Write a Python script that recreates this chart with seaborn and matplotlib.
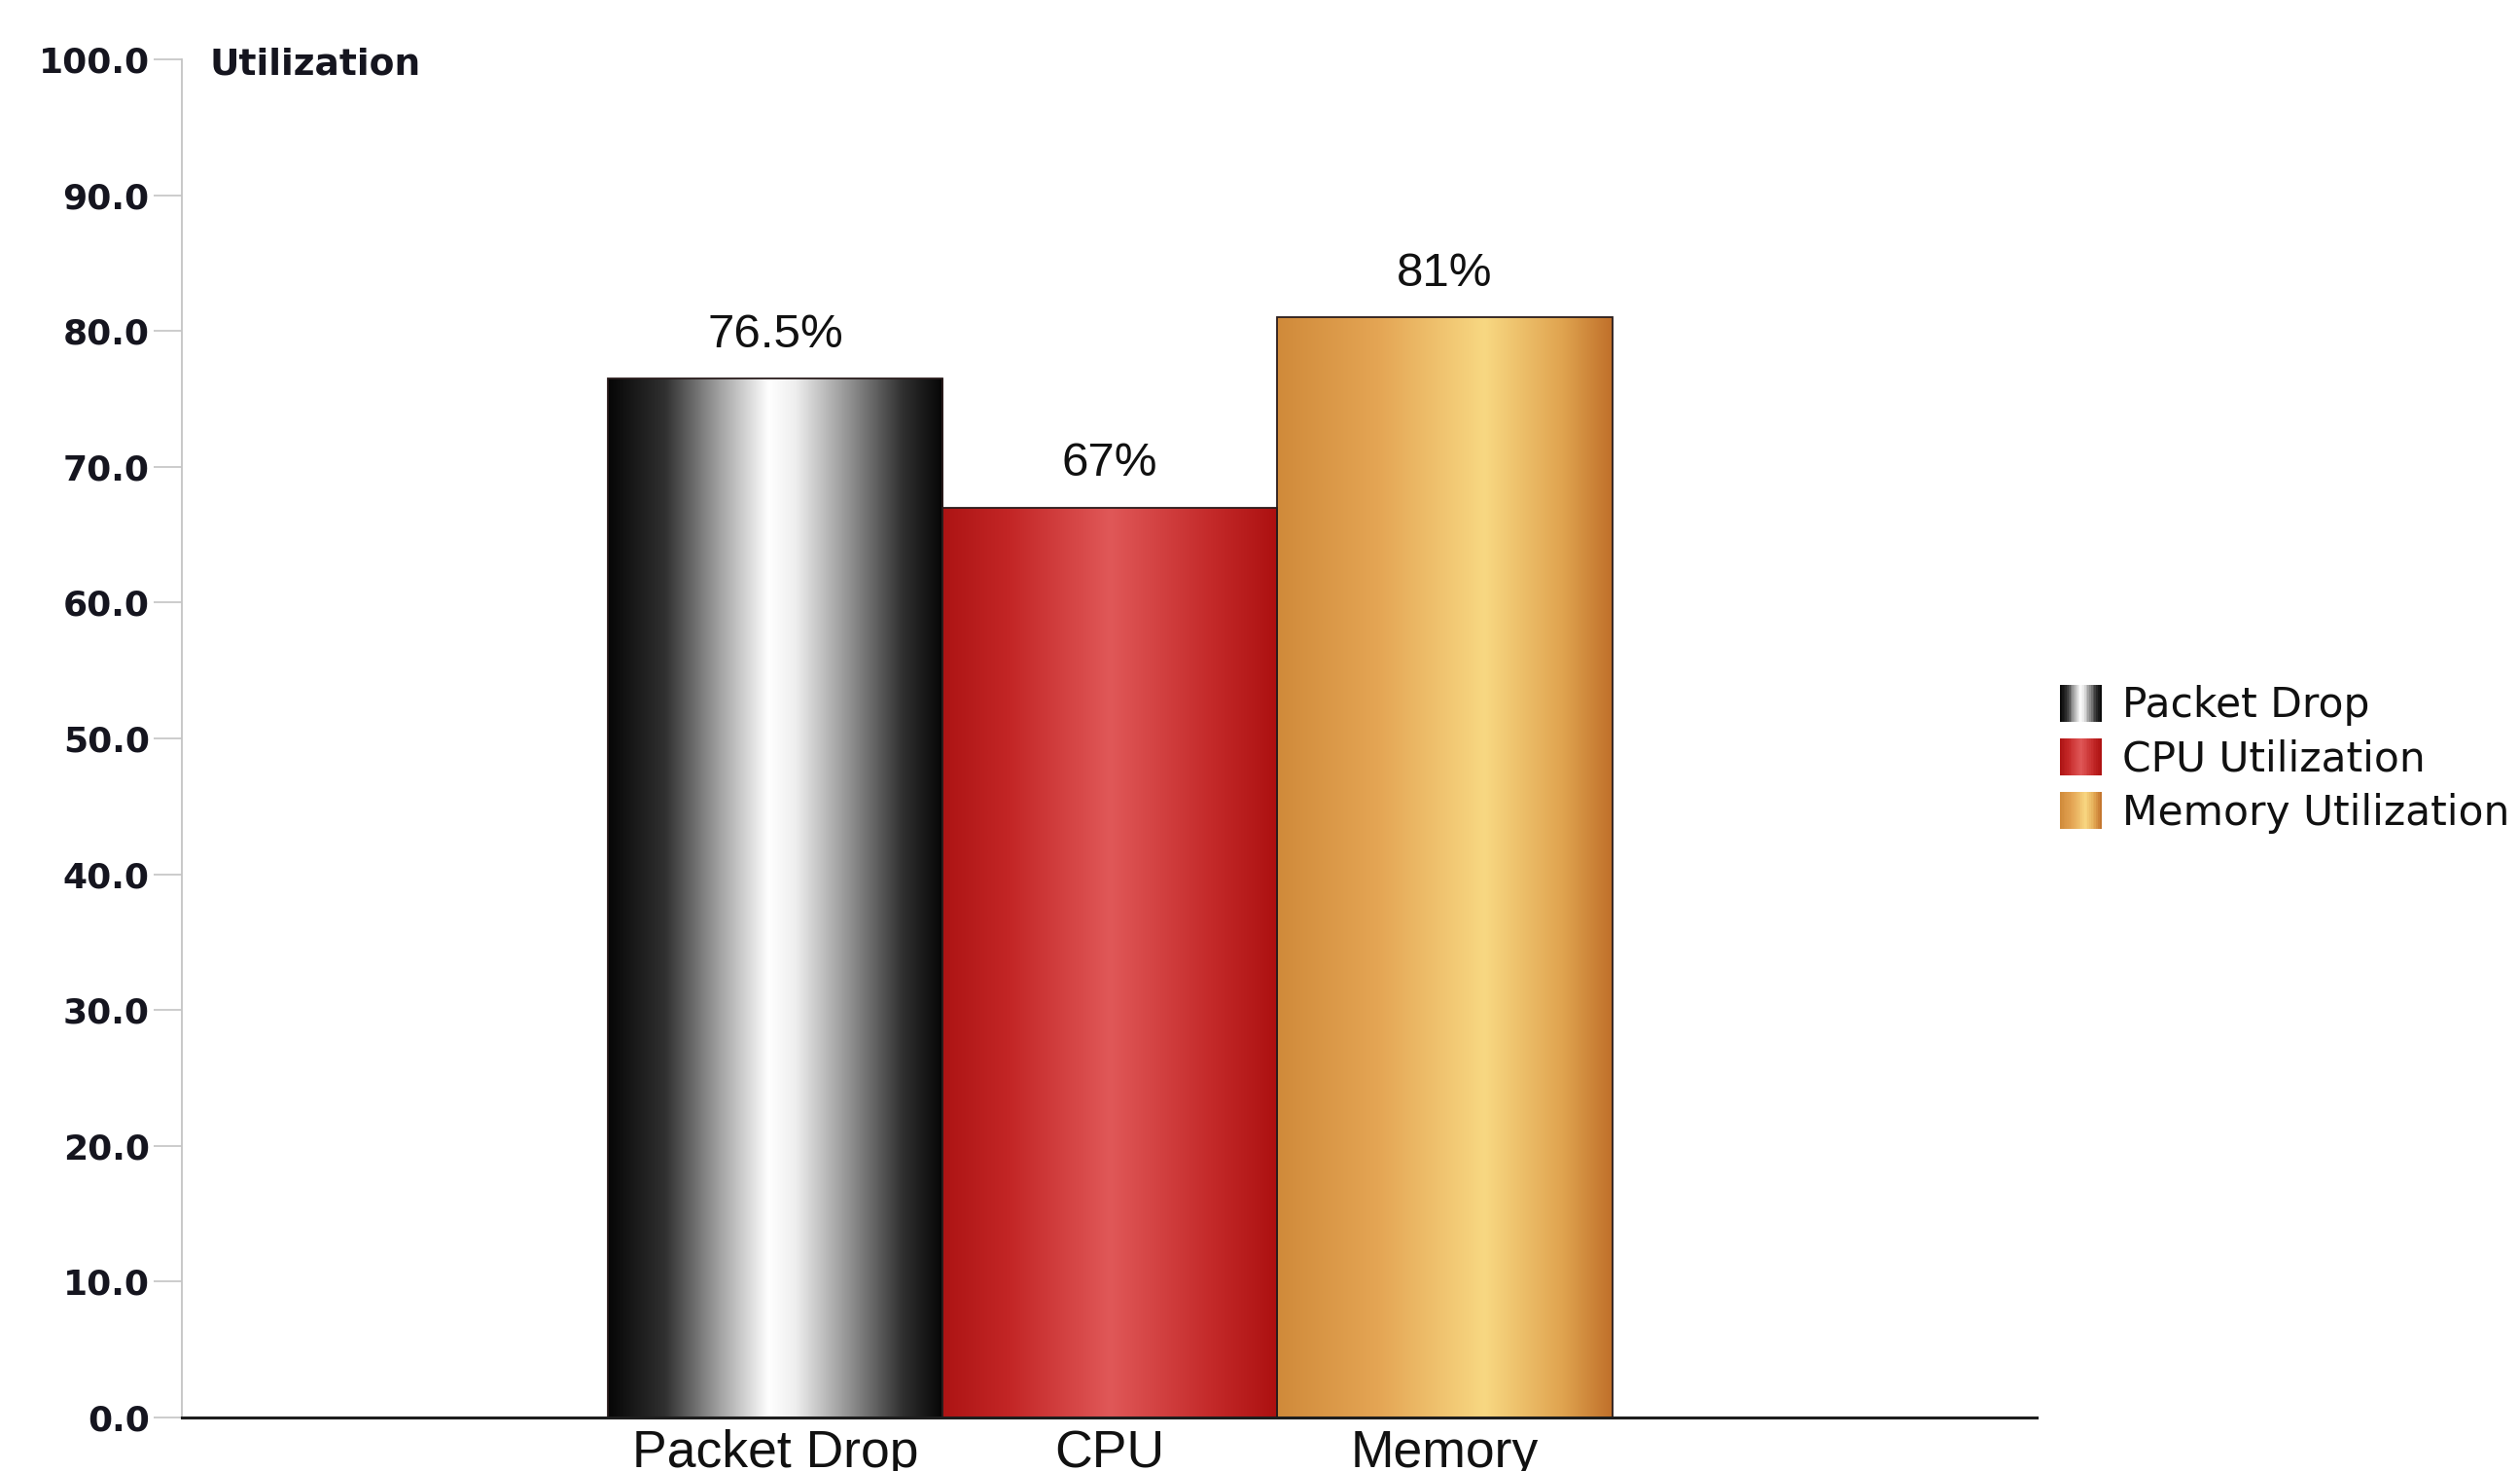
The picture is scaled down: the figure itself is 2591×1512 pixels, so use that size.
import numpy as np
import pandas as pd
import seaborn as sns
import matplotlib
matplotlib.use("Agg")
import matplotlib.pyplot as plt
import matplotlib.transforms as mtrans
from matplotlib.colors import LinearSegmentedColormap
from matplotlib.patches import Rectangle
from matplotlib.legend_handler import HandlerBase
from matplotlib import font_manager as fm

# ---------------- data ----------------
categories = ["Packet Drop", "CPU", "Memory"]
series = ["Packet Drop", "CPU Utilization", "Memory Utilization"]
values = [76.5, 67.0, 81.0]
value_labels = ["76.5%", "67%", "81%"]
y_ticks = [0, 10, 20, 30, 40, 50, 60, 70, 80, 90, 100]
title = "Utilization"

# gradient colour stops (cylinder look) per series
grad_black = [(0.0, "#060606"), (0.17, "#303030"), (0.33, "#a0a0a0"), (0.48, "#ffffff"),
              (0.56, "#eeeeee"), (0.72, "#929292"), (0.88, "#303030"), (1.0, "#050505")]
grad_red = [(0.0, "#ad1414"), (0.2, "#c32626"), (0.5, "#e05858"), (0.8, "#c42a2a"), (1.0, "#ac1010")]
grad_gold = [(0.0, "#d08a3a"), (0.3, "#e4a554"), (0.62, "#f8d882"), (0.85, "#e0a450"), (1.0, "#c0702a")]
gradients = [grad_black, grad_red, grad_gold]
mid_colors = ["#888888", "#d03a3a", "#eab860"]


def pick(fams):
    for f in fams:
        try:
            fm.findfont(fm.FontProperties(family=f), fallback_to_default=False)
            return f
        except Exception:
            pass
    return "DejaVu Sans"


sns.set_theme(style="white")
plt.rcParams["font.family"] = ["DejaVu Sans"]
narrow = pick(["Liberation Sans Narrow"])
is_narrow = narrow == "Liberation Sans Narrow"
label_font = narrow if is_narrow else pick(["Liberation Sans"])
xlab_size = 46 if is_narrow else 38.5
val_size = 41 if is_narrow else 35.5

cmaps = [LinearSegmentedColormap.from_list(f"g{i}", g) for i, g in enumerate(gradients)]

fig = plt.figure(figsize=(25.91, 15.12), dpi=100)
fig.patch.set_facecolor("white")
ax = fig.add_axes([0.0722, 0.0364, 0.7360, 0.9233])

df = pd.DataFrame({"category": categories, "value": values, "series": series})
sns.barplot(data=df, x="category", y="value", hue="series", hue_order=series,
            dodge=False, width=1.0, legend=False, ax=ax, palette=mid_colors,
            saturation=1, edgecolor="#2a1c1c", linewidth=1.3, errorbar=None)

# gradient fills clipped to each bar
xlim = (-1.772, 3.768)
ylim = (0, 100)
grad_img = np.linspace(0, 1, 512).reshape(1, -1)
for patch in list(ax.patches):
    x0, y0 = patch.get_x(), patch.get_y()
    w, h = patch.get_width(), patch.get_height()
    if h <= 0:
        continue
    idx = int(round(x0 + w / 2))
    im = ax.imshow(grad_img, cmap=cmaps[idx], extent=[x0, x0 + w, y0, y0 + h],
                   aspect="auto", origin="lower", interpolation="bilinear",
                   zorder=patch.get_zorder() - 0.05)
    im.set_clip_path(patch)
    patch.set_facecolor("none")

# value labels
for i, cont in enumerate(ax.containers):
    ax.bar_label(cont, labels=[value_labels[i]], padding=16, fontsize=val_size,
                 family=label_font, color="#111111")

ax.set_xlim(*xlim)
ax.set_ylim(*ylim)
ax.set_xlabel("")
ax.set_ylabel("")

ax.set_yticks(y_ticks, labels=[f"{v:.1f}" for v in y_ticks], fontsize=26,
              fontweight="bold", color="#15151f")
ax.tick_params(axis="y", length=21, width=1.2, color="#c4c4c4", pad=3, left=True)
ax.set_xticks(range(len(categories)), labels=categories, fontsize=xlab_size,
              family=label_font, color="#111111")
ax.tick_params(axis="x", length=0, pad=9)

for s in ["top", "right"]:
    ax.spines[s].set_visible(False)
ax.spines["left"].set_color("#c4c4c4")
ax.spines["left"].set_linewidth(1.3)
ax.spines["bottom"].set_color("#1e1e1e")
ax.spines["bottom"].set_linewidth(2.2)
ax.grid(False)

tr = mtrans.blended_transform_factory(ax.transAxes, ax.transData)
ax.text(0.015, 99.6, title, transform=tr, ha="left", va="center", fontsize=27,
        fontweight="bold", color="#15151f")


# legend with gradient swatches
class GradHandler(HandlerBase):
    def __init__(self, cmap, n=24):
        super().__init__()
        self.cmap = cmap
        self.n = n

    def create_artists(self, legend, orig_handle, xdescent, ydescent, width, height,
                       fontsize, trans):
        arts = []
        for k in range(self.n):
            r = Rectangle((-xdescent + k * width / self.n, -ydescent), width / self.n * 1.05,
                          height, facecolor=self.cmap((k + 0.5) / self.n), edgecolor="none",
                          linewidth=0, transform=trans)
            arts.append(r)
        return arts


handles = [Rectangle((0, 0), 1, 1) for _ in series]
hmap = {h: GradHandler(cmaps[i]) for i, h in enumerate(handles)}
fig.legend(handles=handles, labels=series, handler_map=hmap, loc="center left",
           bbox_to_anchor=(0.8175, 0.484), frameon=False, fontsize=30.5,
           handlelength=1.0, handleheight=1.0, handletextpad=0.5, labelspacing=0.3,
           borderaxespad=0, borderpad=0, labelcolor="#111111")

fig.savefig("out.png", dpi=100, facecolor="white")
